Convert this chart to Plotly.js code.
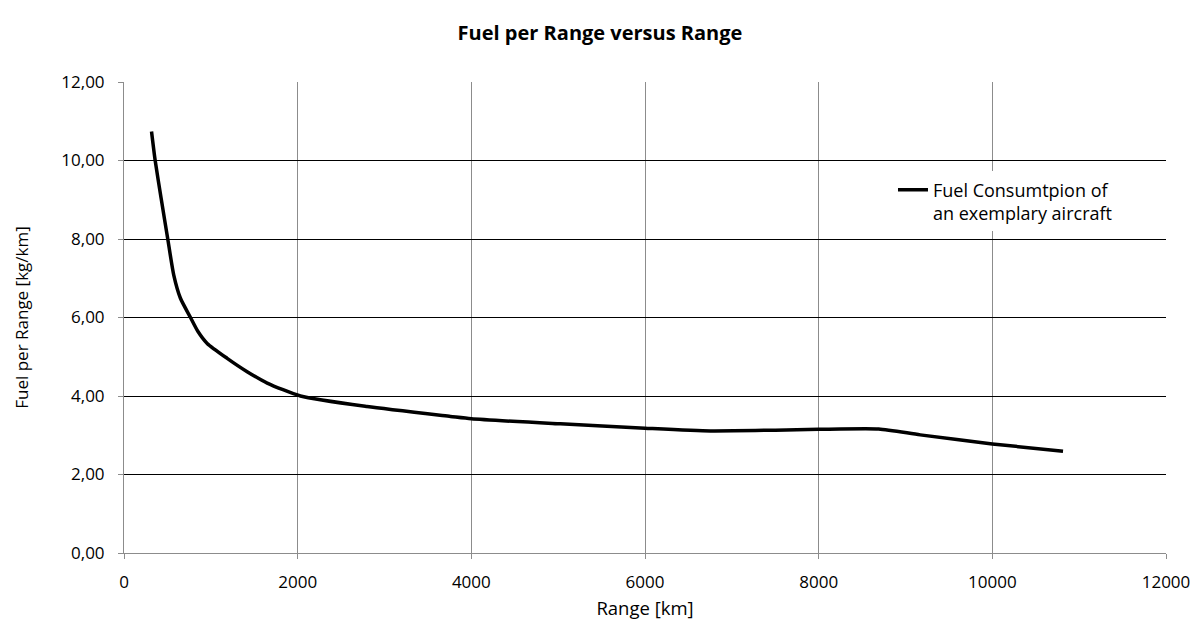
<!DOCTYPE html>
<html>
<head>
<meta charset="utf-8">
<script src="https://cdn.plot.ly/plotly-3.0.1.min.js"></script>
<style>html,body{margin:0;padding:0;background:#fff}#chart{width:1200px;height:627px}</style>
</head>
<body>
<div id="chart"></div>
<script>
const rangeKm = [317, 359, 428, 504, 573, 650, 766, 850, 958, 1188, 1418, 1649, 2032, 2800, 3759, 4000, 5025, 6000, 6753, 7500, 8000, 8691, 9170, 10000, 10814];
const fuelPerRange = [10.74, 10.0, 9.03, 8.0, 7.08, 6.49, 6.0, 5.65, 5.34, 4.96, 4.62, 4.33, 4.0, 3.73, 3.48, 3.42, 3.29, 3.18, 3.11, 3.13, 3.15, 3.16, 3.01, 2.78, 2.59];
const seriesName = 'Fuel Consumtpion of<br>an exemplary aircraft';
const xTickVals = [0, 2000, 4000, 6000, 8000, 10000, 12000];
const yTickVals = [0, 2, 4, 6, 8, 10, 12];

const font = '"Open Sans", Lato, sans-serif';
const trace = {
  x: rangeKm, y: fuelPerRange, type: 'scatter', mode: 'lines',
  name: seriesName,
  line: {color: '#000', width: 3.5, shape: 'spline', smoothing: 0.6},
  showlegend: true
};
const layout = {
  width: 1200, height: 627,
  paper_bgcolor: '#fff', plot_bgcolor: '#fff',
  separators: ',.',
  font: {family: font, size: 17, color: '#000'},
  margin: {l: 123.5, r: 34.3, t: 81.7, b: 73.7},
  title: {text: '<b>Fuel per Range versus Range</b>', font: {family: font, size: 20, color: '#000'}, x: 0.5, xref: 'container', y: 0.947, yanchor: 'middle'},
  xaxis: {
    range: [0, 12000], tickvals: xTickVals, ticktext: xTickVals.map(String),
    showgrid: true, gridcolor: '#8c8c8c', gridwidth: 1,
    showline: true, linecolor: '#8c8c8c', linewidth: 1,
    ticks: 'outside', ticklen: 5, tickcolor: '#8c8c8c',
    zeroline: false, ticklabelstandoff: 9,
    tickfont: {family: font, size: 17},
    title: {text: 'Range [km]', font: {family: font, size: 18.5}, standoff: 9}
  },
  yaxis: {
    range: [0, 12], tickvals: yTickVals, tickformat: '.2f',
    showgrid: true, gridcolor: '#000', gridwidth: 1,
    showline: true, linecolor: '#8c8c8c', linewidth: 1,
    ticks: 'outside', ticklen: 5, tickcolor: '#8c8c8c',
    zeroline: false, ticklabelstandoff: 10,
    tickfont: {family: font, size: 17},
    title: {text: 'Fuel per Range [kg/km]', font: {family: font, size: 17}, standoff: 28}
  },
  legend: {x: 0.738, y: 0.81, xanchor: 'left', yanchor: 'top', valign: 'top', bgcolor: 'rgba(255,255,255,1)', borderwidth: 0, font: {family: font, size: 18}, tracegroupgap: 0}
};
Plotly.newPlot('chart', [trace], layout, {displayModeBar: false, staticPlot: true});
</script>
</body>
</html>
